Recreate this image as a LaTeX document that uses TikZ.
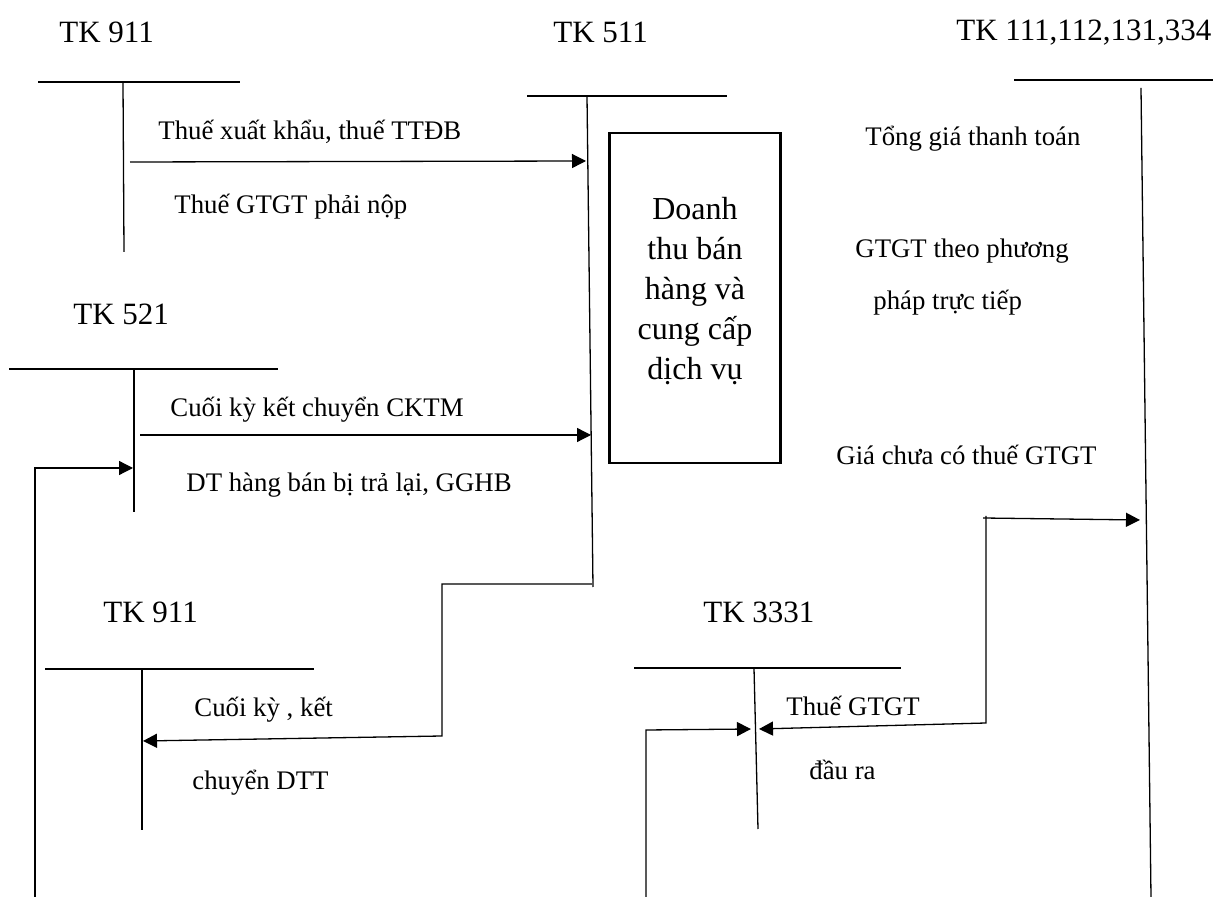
\documentclass[tikz,border=0pt]{standalone}
\usepackage{fontspec}
\setmainfont{Liberation Serif}
\usetikzlibrary{arrows.meta}
\begin{document}
\begin{tikzpicture}[x=0.5pt,y=-0.5pt,
  ln/.style={line width=0.65pt},
  arr/.style={line width=0.65pt,-{Triangle[length=7pt,width=7pt]}},
  lbl/.style={font=\fontsize{13.4}{16}\selectfont,anchor=base west,inner sep=0pt},
  tk/.style={font=\fontsize{15.5}{18}\selectfont,anchor=base west,inner sep=0pt},
  boxtxt/.style={font=\fontsize{16}{20}\selectfont,align=center,inner sep=0pt}]
\useasboundingbox (0,0) rectangle (1222,897);

% ---- T-account headings
\node[tk] (tk911a) at (59,43) {TK 911};
\node[tk] (tk511) at (553,43) {TK 511};
\node[tk] (tk111) at (956,41) {TK 111,112,131,334};
\node[tk] (tk521) at (73,325) {TK 521};
\node[tk] (tk911b) at (103,623) {TK 911};
\node[tk] (tk3331) at (703,623) {TK 3331};

% ---- T-account lines
\coordinate (a1L) at (38,82);  \coordinate (a1R) at (240,82);
\coordinate (a1T) at (123,82); \coordinate (a1B) at (124,252);
\draw[ln] (a1L) -- (a1R); \draw[ln] (a1T) -- (a1B);

\coordinate (a2L) at (527,96); \coordinate (a2R) at (727,96);
\coordinate (a2T) at (587,96); \coordinate (a2B) at (593,587);
\draw[ln] (a2L) -- (a2R); \draw[ln] (a2T) -- (a2B);

\coordinate (a3L) at (1014,80); \coordinate (a3R) at (1213,80);
\coordinate (a3T) at (1141,88); \coordinate (a3B) at (1151,897);
\draw[ln] (a3L) -- (a3R); \draw[ln] (a3T) -- (a3B);

\coordinate (a4L) at (9,369);  \coordinate (a4R) at (278,369);
\coordinate (a4T) at (134,369); \coordinate (a4B) at (134,512);
\draw[ln] (a4L) -- (a4R); \draw[ln] (a4T) -- (a4B);

\coordinate (a5L) at (45,669);  \coordinate (a5R) at (314,669);
\coordinate (a5T) at (142,669); \coordinate (a5B) at (142,830);
\draw[ln] (a5L) -- (a5R); \draw[ln] (a5T) -- (a5B);

\coordinate (a6L) at (634,668); \coordinate (a6R) at (901,668);
\coordinate (a6T) at (754,668); \coordinate (a6B) at (758,829);
\draw[ln] (a6L) -- (a6R); \draw[ln] (a6T) -- (a6B);

% ---- central box
\node[draw,line width=1.2pt,minimum width=85.5pt,minimum height=165pt,inner sep=0pt] (box) at (695,298) {};
\node[boxtxt] (boxt) at (695,291) {Doanh\\thu bán\\hàng và\\cung cấp\\dịch vụ};

% ---- connectors
\coordinate (c1s) at (130,162); \coordinate (c1e) at (586,161);
\draw[arr] (c1s) -- (c1e);

\coordinate (c2s) at (140,435); \coordinate (c2e) at (591,435);
\draw[arr] (c2s) -- (c2e);

\coordinate (c3s) at (35,897); \coordinate (c3m) at (35,468); \coordinate (c3e) at (133,468);
\draw[arr] (c3s) -- (c3m) -- (c3e);

\coordinate (c4s) at (592,584); \coordinate (c4a) at (442,584);
\coordinate (c4b) at (442,736); \coordinate (c4e) at (143,741);
\draw[arr] (c4s) -- (c4a) -- (c4b) -- (c4e);

\coordinate (c5s) at (983,518); \coordinate (c5e) at (1140,520);
\draw[arr] (c5s) -- (c5e);

\coordinate (c6s) at (986,516); \coordinate (c6a) at (986,723); \coordinate (c6e) at (759,729);
\draw[arr] (c6s) -- (c6a) -- (c6e);

\coordinate (c7s) at (646,897); \coordinate (c7a) at (646,730); \coordinate (c7e) at (751,729);
\draw[arr] (c7s) -- (c7a) -- (c7e);

% ---- labels
\node[lbl] (l1) at (158,140) {Thuế xuất khẩu, thuế TTĐB};
\node[lbl] (l2) at (174,214) {Thuế GTGT phải nộp};
\node[lbl] (l3) at (170,417) {Cuối kỳ kết chuyển CKTM};
\node[lbl] (l4) at (186,492) {DT hàng bán bị trả lại, GGHB};
\node[lbl] (l5) at (194,717) {Cuối kỳ , kết};
\node[lbl] (l6) at (192,790) {chuyển DTT};
\node[lbl] (l7) at (865,146) {Tổng giá thanh toán};
\node[lbl] (l8) at (855,258) {GTGT theo phương};
\node[lbl] (l9) at (873,310) {pháp trực tiếp};
\node[lbl] (l10) at (836,465) {Giá chưa có thuế GTGT};
\node[lbl] (l11) at (786,716) {Thuế GTGT};
\node[lbl] (l12) at (809,780) {đầu ra};
\end{tikzpicture}
\end{document}
